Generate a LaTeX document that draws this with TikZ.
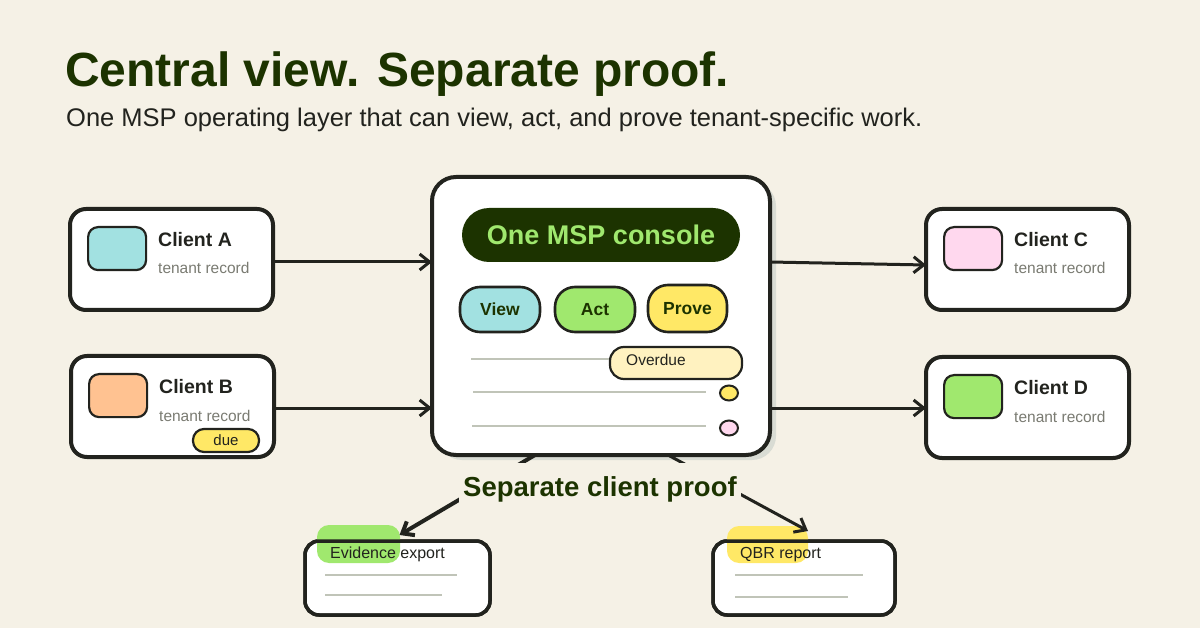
\documentclass[tikz,border=0pt]{standalone}
\usepackage{fontspec}
\setmainfont{Liberation Sans}
\usetikzlibrary{arrows.meta, positioning, shapes.geometric}

\definecolor{paper}{HTML}{F5F1E6}
\definecolor{ink}{HTML}{22231E}
\definecolor{deep}{HTML}{1C3300}
\definecolor{tealish}{HTML}{A2E1E1}
\definecolor{peach}{HTML}{FFC291}
\definecolor{blush}{HTML}{FFD8EE}
\definecolor{leaf}{HTML}{A0E86E}
\definecolor{sun}{HTML}{FFE866}
\definecolor{cream}{HTML}{FFF2C0}
\definecolor{rulegray}{HTML}{C0C4B8}
\definecolor{shadowgray}{HTML}{D9DCD4}
\definecolor{subgray}{HTML}{7A7B72}

\begin{document}
\begin{tikzpicture}[
  x=1pt, y=-1pt,
  font=\fontsize{15}{18}\selectfont,
  flow/.style={-{Straight Barb[length=10pt,width=16pt]}, line width=3pt, draw=ink},
  card/.style={rectangle, rounded corners=16pt, draw=ink, line width=4pt, fill=white,
               outer sep=0pt, inner sep=0pt},
  swatch/.style={rectangle, rounded corners=10pt, draw=ink, line width=2.2pt,
                 minimum width=58pt, minimum height=43pt},
  pill/.style={rectangle, rounded corners=20pt, draw=ink, line width=2.6pt,
               minimum width=80pt, minimum height=45pt, text=deep,
               font=\fontsize{17.5}{20}\selectfont\bfseries},
  tag/.style={rectangle, rounded corners=11pt, draw=ink, line width=2.2pt, inner sep=0pt},
  cname/.style={font=\fontsize{19.5}{22}\selectfont\bfseries, text=ink},
  csub/.style={font=\fontsize{15.5}{18}\selectfont, text=subgray},
  rule/.style={line width=2.5pt, draw=rulegray},
  dot/.style={ellipse, draw=ink, line width=2pt, minimum width=18pt, minimum height=15pt, inner sep=0pt}
]
  % fond
  \fill[paper] (0,0) rectangle (1200,628);
  \useasboundingbox (0,0) rectangle (1200,628);

  % titre
  \node[anchor=base west, inner sep=0pt, text=deep, font=\fontsize{48}{56}\selectfont\bfseries] (title) at (65,87) {Central view. Separate proof.};
  \node[anchor=base west, inner sep=0pt, text=ink, font=\fontsize{25.5}{28}\selectfont] (subtitle) at (66,127) {One MSP operating layer that can view, act, and prove tenant-specific work.};

  % clients
  \foreach \n/\px/\py/\col/\lbl in {ca/171.5/259.5/tealish/A, cb/172.5/406.5/peach/B, cc/1027.5/259.5/blush/C, cd/1027.5/407.5/leaf/D} {
    \node[card, minimum width=203pt, minimum height=101pt] (\n) at (\px,\py) {};
    \node[swatch, fill=\col, anchor=north west] (\n sw) at ([xshift=17pt,yshift=-17pt]\n.north west) {};
    \node[cname, anchor=base west, inner sep=0pt] (\n name) at ([xshift=88pt,yshift=-38pt]\n.north west) {Client \lbl};
    \node[csub, anchor=base west, inner sep=0pt] (\n sub) at ([xshift=88pt,yshift=-65pt]\n.north west) {tenant record};
  }
  \node[tag, fill=sun, minimum width=66pt, minimum height=23pt, font=\fontsize{15}{18}\selectfont, text=ink] (due) at (226,440.5) {due};

  % console
  \node[card, draw=none, fill=shadowgray, rounded corners=24pt, minimum width=338pt, minimum height=278pt] (conshadow) at (607,321) {};
  \node[card, rounded corners=24pt, minimum width=338pt, minimum height=278pt] (con) at (601,316) {};
  \node[rectangle, rounded corners=27pt, fill=deep, minimum width=278pt, minimum height=54pt,
        text=leaf, font=\fontsize{27}{30}\selectfont\bfseries] (head) at (601,235) {One MSP console};
  \node[pill, fill=tealish] (view) at (500,309.5) {View};
  \node[pill, fill=leaf] (act) at (595,309.5) {Act};
  \node[pill, fill=sun, minimum width=79pt, minimum height=47pt] (prove) at (687.5,308.5) {Prove};

  % lignes
  \draw[rule] (471,359) -- (612,359);
  \node[tag, rounded corners=14pt, fill=cream, minimum width=132pt, minimum height=32pt] (overdue) at (676,363) {};
  \node[anchor=west, inner sep=0pt, text=ink, font=\fontsize{15.5}{18}\selectfont] (overduetxt) at (626,360) {Overdue};
  \draw[rule] (473,392) -- (706,392);
  \node[dot, fill=sun] (dota) at (729,393) {};
  \draw[rule] (472,426) -- (706,426);
  \node[dot, fill=blush] (dotb) at (729,428) {};

  % fleches
  \draw[flow] (ca.east |- 0,262) -- (con.west |- 0,262);
  \draw[flow] (cb.east |- 0,408) -- (con.west |- 0,408);
  \draw[flow] (con.east |- 0,262) -- (cc.west |- 0,265);
  \draw[flow] (con.east |- 0,408) -- (cd.west |- 0,408);

  % preuves
  \node[card, rounded corners=14pt, line width=3.5pt, minimum width=185pt, minimum height=74pt] (ev) at (397.5,578) {};
  \fill[leaf, rounded corners=12pt] (317,525) rectangle (400,563);
  \draw[ink, line width=3.5pt, rounded corners=14pt] (ev.north west) rectangle (ev.south east);
  \node[anchor=base west, inner sep=0pt, text=ink, font=\fontsize{16}{18}\selectfont] (evtxt) at (330,558) {Evidence export};
  \draw[rule] (325,575) -- (457,575);
  \draw[rule] (325,595) -- (442,595);

  \node[card, rounded corners=14pt, line width=3.5pt, minimum width=182pt, minimum height=74pt] (qbr) at (804,578) {};
  \fill[sun, rounded corners=12pt] (727,526) rectangle (808,563);
  \draw[ink, line width=3.5pt, rounded corners=14pt] (qbr.north west) rectangle (qbr.south east);
  \node[anchor=base west, inner sep=0pt, text=ink, font=\fontsize{16}{18}\selectfont] (qbrtxt) at (740,558) {QBR report};
  \draw[rule] (735,575) -- (863,575);
  \draw[rule] (735,597) -- (848,597);

  \draw[flow, line width=4pt] ([xshift=-66pt]con.south) -- ([xshift=2pt,yshift=6pt]ev.north);
  \draw[flow] ([xshift=67pt]con.south) -- ([xshift=4pt,yshift=10pt]qbr.north);
  \node[fill=paper, inner xsep=4pt, inner ysep=13pt, text=deep, font=\fontsize{27.5}{30}\selectfont\bfseries] (proof) at (600,489) {Separate client proof};
\end{tikzpicture}
\end{document}
